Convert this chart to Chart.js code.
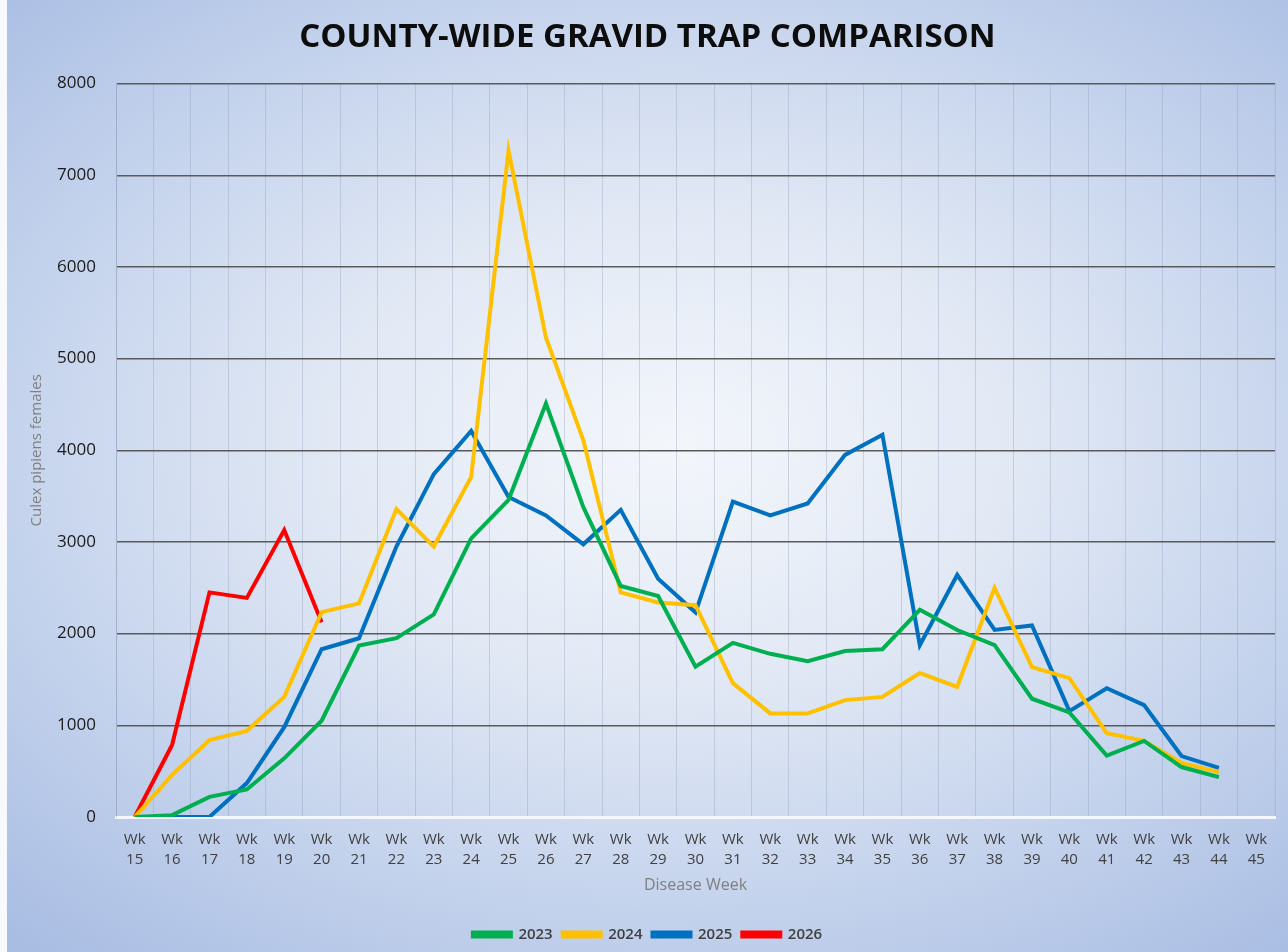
<!DOCTYPE html>
<html>
<head>
<meta charset="utf-8">
<script src="https://cdn.jsdelivr.net/npm/chart.js@4.4.1/dist/chart.umd.min.js"></script>
<style>
  html, body { margin: 0; padding: 0; }
  body {
    width: 1288px; height: 952px; overflow: hidden;
    background: radial-gradient(ellipse 75% 70% at 52% 47%, #f3f6fb 0%, #e2e9f5 35%, #c3d2ec 70%, #a9bde3 100%);
  }
  #wrap { position: absolute; left: 0; top: 0; width: 1288px; height: 952px; }
  #edge { position: absolute; left: 0; top: 0; width: 7px; height: 952px; background: #f7f9fc; }
</style>
</head>
<body>
<div id="edge"></div>
<div id="wrap"><canvas id="c"></canvas></div>
<script>
const weeks = ["15","16","17","18","19","20","21","22","23","24","25","26","27","28","29","30","31","32","33","34","35","36","37","38","39","40","41","42","43","44","45"];
const labels = weeks.map(w => ["Wk", w]);

const y2023 = [0, 20, 220, 300, 640, 1050, 1870, 1950, 2210, 3040, 3460, 4510, 3380, 2520, 2410, 1640, 1900, 1780, 1700, 1810, 1830, 2260, 2040, 1875, 1290, 1140, 670, 830, 545, 435, null];
const y2024 = [0, 460, 840, 940, 1310, 2235, 2330, 3360, 2950, 3710, 7270, 5230, 4110, 2450, 2340, 2310, 1460, 1130, 1130, 1275, 1310, 1570, 1420, 2500, 1635, 1515, 915, 830, 590, 490, null];
const y2025 = [0, 0, 0, 370, 980, 1830, 1950, 2950, 3740, 4210, 3490, 3290, 2975, 3350, 2600, 2230, 3440, 3290, 3420, 3950, 4170, 1875, 2640, 2040, 2090, 1155, 1405, 1220, 665, 535, null];
const y2026 = [0, 785, 2450, 2390, 3130, 2125];

const yTicks = [0, 1000, 2000, 3000, 4000, 5000, 6000, 7000, 8000];

const series = [
  { label: "2023", data: y2023, color: "#00B050" },
  { label: "2024", data: y2024, color: "#FFC000" },
  { label: "2025", data: y2025, color: "#0070C0" },
  { label: "2026", data: y2026, color: "#FF0000" }
];

const FONT = "'Open Sans', 'Liberation Sans', sans-serif";

new Chart(document.getElementById("c"), {
  type: "line",
  data: {
    labels: labels,
    datasets: series.map(s => ({
      label: s.label,
      data: s.data,
      borderColor: s.color,
      backgroundColor: s.color,
      borderWidth: 4,
      pointRadius: 0,
      tension: 0,
      spanGaps: false
    }))
  },
  options: {
    responsive: true,
    maintainAspectRatio: false,
    animation: false,
    layout: { padding: { left: 20, right: 13, top: 0, bottom: 0 } },
    plugins: {
      title: {
        display: true,
        text: "COUNTY-WIDE GRAVID TRAP COMPARISON",
        color: "#0d0d0d",
        font: { family: FONT, size: 33, weight: "bold" },
        padding: { top: 18, bottom: 26 }
      },
      legend: {
        position: "bottom",
        labels: {
          boxWidth: 38,
          boxHeight: 4,
          padding: 10,
          color: "#404040",
          font: { family: FONT, size: 15, weight: "600" }
        }
      },
      tooltip: { enabled: false }
    },
    scales: {
      x: {
        offset: true,
        grid: {
          offset: true,
          drawTicks: false,
          color: "rgba(140,155,185,0.35)",
          lineWidth: 1
        },
        border: { display: true, color: "rgba(245,248,253,0.95)", width: 3 },
        ticks: {
          autoSkip: false,
          maxRotation: 0,
          padding: 13,
          color: "#404040",
          font: { family: FONT, size: 15, lineHeight: 1.33 }
        },
        title: {
          display: true,
          text: "Disease Week",
          color: "#808080",
          font: { family: FONT, size: 16 },
          padding: { top: 4, bottom: 22 }
        },
        afterFit: s => { s.height = 100; }
      },
      y: {
        min: 0,
        max: 8000,
        afterBuildTicks: s => { s.ticks = yTicks.map(v => ({ value: v })); },
        grid: {
          drawTicks: false,
          color: ctx => (ctx.tick && ctx.tick.value === 0) ? "rgba(245,248,253,0.95)" : "#5a5a5a",
          lineWidth: 1.5
        },
        border: { display: true, color: "rgba(140,155,185,0.45)", width: 1 },
        ticks: {
          padding: 20,
          color: "#1a1a1a",
          font: { family: FONT, size: 17 },
          callback: v => String(v)
        },
        title: {
          display: true,
          text: "Culex pipiens females",
          color: "#808080",
          font: { family: FONT, size: 15 },
          padding: { top: 8, bottom: 0 }
        },
        afterFit: s => { s.width = 96; }
      }
    }
  }
});
</script>
</body>
</html>
